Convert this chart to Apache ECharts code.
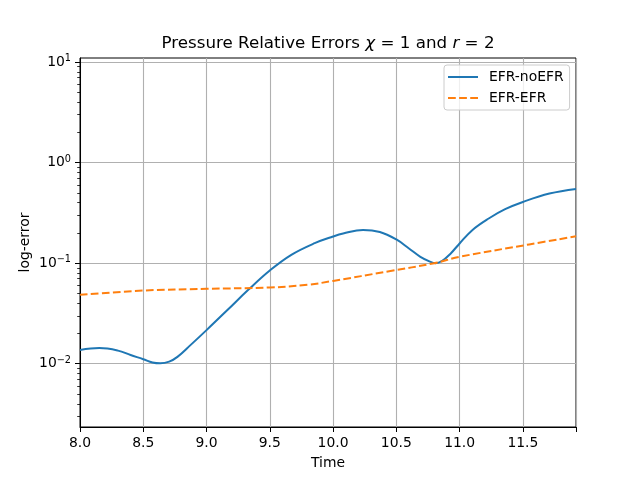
<!DOCTYPE html>
<html>
<head>
    <meta charset="utf-8">
    <title>Pressure Relative Errors</title>
    <script src="https://cdn.jsdelivr.net/npm/echarts@6.0.0/dist/echarts.min.js"></script>
    <style>
        html, body { margin: 0; padding: 0; background: #fff; }
    </style>
</head>
<body>
<div id="main" style="width: 640px;height:480px;"></div>

<script type="text/javascript">
    var noEfrTime = [8.00, 8.153, 8.30, 8.40, 8.50, 8.573, 8.634, 8.705, 8.77, 8.875, 9.00, 9.165,
        9.33, 9.50, 9.67, 9.855, 10.00, 10.08, 10.237, 10.37, 10.50, 10.60, 10.69, 10.77,
        10.81, 10.86, 10.93, 11.00, 11.10, 11.23, 11.36, 11.50, 11.71, 11.92];
    var noEfrError = [0.0137, 0.0143, 0.0135, 0.0122, 0.0111, 0.0103, 0.0101, 0.0105, 0.0117, 0.0154, 0.0216, 0.0342,
        0.0543, 0.0845, 0.121, 0.158, 0.184, 0.197, 0.214, 0.204, 0.172, 0.140, 0.1156, 0.103,
        0.100, 0.105, 0.125, 0.157, 0.213, 0.278, 0.344, 0.406, 0.492, 0.547];

    var efrTime = [8.0, 8.5, 9.0, 9.5, 9.8, 10.0, 10.443, 10.8, 11.0, 11.55, 11.92];
    var efrError = [0.0484, 0.0534, 0.0556, 0.0573, 0.061, 0.0666, 0.0832, 0.100, 0.1156, 0.1535, 0.185];

    var xTicks = [8.0, 8.5, 9.0, 9.5, 10.0, 10.5, 11.0, 11.5];
    var yTicks = [0.01, 0.1, 1, 10];

    // matplotlib style minor ticks 2..9 x 10^k
    var yMinor = [];
    for (var k = -3; k <= 0; k++) {
        for (var m = 2; m <= 9; m++) {
            var v = m * Math.pow(10, k);
            if (v > 0.00235 && v < 10.96) yMinor.push(v);
        }
    }

    function pairs(xs, ys) {
        var out = [];
        for (var i = 0; i < xs.length; i++) out.push([xs[i], ys[i]]);
        return out;
    }

    var font = 'DejaVu Sans';
    var chart = echarts.init(document.getElementById('main'));

    var option = {
        animation: false,
        backgroundColor: '#fff',
        title: {
            text: 'Pressure Relative Errors {i|χ} = 1 and {i|r} = 2',
            left: 328,
            textAlign: 'center',
            top: 35,
            padding: 0,
            textStyle: {
                fontFamily: font,
                fontSize: 16.7,
                fontWeight: 'normal',
                color: '#000',
                rich: {
                    i: { fontFamily: font, fontSize: 16.7, fontStyle: 'italic', color: '#000' }
                }
            }
        },
        legend: {
            data: [
                { name: 'EFR-noEFR', icon: 'path://M0,0h30v2h-30z' },
                { name: 'EFR-EFR', icon: 'path://M0,0h7.7v2h-7.7zM11,0h7.7v2h-7.7zM22,0h7.7v2h-7.7z' }
            ],
            orient: 'vertical',
            left: 444,
            top: 65,
            padding: [5, 6, 5, 4],
            itemGap: 7,
            itemWidth: 30,
            itemHeight: 14,
            backgroundColor: 'rgba(255,255,255,0.8)',
            borderColor: '#cccccc',
            borderWidth: 1,
            borderRadius: 3,
            textStyle: {
                fontFamily: font,
                fontSize: 13.9,
                color: '#000',
                padding: [0, 0, 0, 6]
            }
        },
        grid: {
            left: 80,
            right: 64,
            top: 58,
            bottom: 53,
            show: true,
            borderColor: '#000',
            borderWidth: 1
        },
        xAxis: {
            type: 'value',
            min: 8,
            max: 11.92,
            interval: 0.5,
            name: 'Time',
            nameLocation: 'middle',
            nameGap: 29,
            nameTextStyle: { fontFamily: font, fontSize: 13.9, color: '#000' },
            axisLine: { lineStyle: { color: '#000', width: 1 } },
            axisTick: { show: true, length: 5, lineStyle: { color: '#000', width: 1 } },
            axisLabel: {
                margin: 9,
                fontFamily: font,
                fontSize: 13.9,
                color: '#000',
                formatter: function (v) {
                    for (var i = 0; i < xTicks.length; i++) {
                        if (Math.abs(xTicks[i] - v) < 1e-6) return v.toFixed(1);
                    }
                    return '';
                }
            },
            splitLine: { show: true, lineStyle: { color: '#b0b0b0', width: 1.1 } }
        },
        yAxis: [{
            type: 'log',
            min: 0.00235,
            max: 10.96,
            name: 'log-error',
            nameLocation: 'middle',
            nameGap: 48,
            nameMoveOverlap: false,
            nameTextStyle: { fontFamily: font, fontSize: 13.9, color: '#000' },
            axisLine: { show: true, lineStyle: { color: '#000', width: 1 } },
            axisTick: { show: true, length: 5, customValues: yTicks, lineStyle: { color: '#000', width: 1 } },
            axisLabel: {
                margin: 9,
                customValues: yTicks,
                fontFamily: font,
                fontSize: 13.9,
                color: '#000',
                formatter: function (v) {
                    var e = Math.round(Math.log10(v));
                    var s = e < 0 ? '\u2212' + (-e) : '' + e;
                    return '10{sup|' + s + '}';
                },
                rich: {
                    sup: { fontFamily: font, fontSize: 9.7, color: '#000', padding: [0, 0, 7, 0] }
                }
            },
            splitLine: { show: true, lineStyle: { color: '#b0b0b0', width: 1.1 } }
        }, {
            type: 'log',
            min: 0.00235,
            max: 10.96,
            position: 'left',
            axisLine: { show: false },
            axisTick: { show: true, length: 2.8, customValues: yMinor, lineStyle: { color: '#000', width: 0.8 } },
            axisLabel: { show: false },
            splitLine: { show: false }
        }],
        series: [{
            name: 'EFR-noEFR',
            type: 'line',
            data: pairs(noEfrTime, noEfrError),
            smooth: 0.4,
            showSymbol: false,
            symbol: 'none',
            color: '#1f77b4',
            lineStyle: { color: '#1f77b4', width: 2 }
        }, {
            name: 'EFR-EFR',
            type: 'line',
            data: pairs(efrTime, efrError),
            smooth: 0.4,
            showSymbol: false,
            symbol: 'none',
            color: '#ff7f0e',
            lineStyle: { color: '#ff7f0e', width: 2, type: [7.7, 3.3] }
        }]
    };

    chart.setOption(option);
</script>
</body>
</html>
